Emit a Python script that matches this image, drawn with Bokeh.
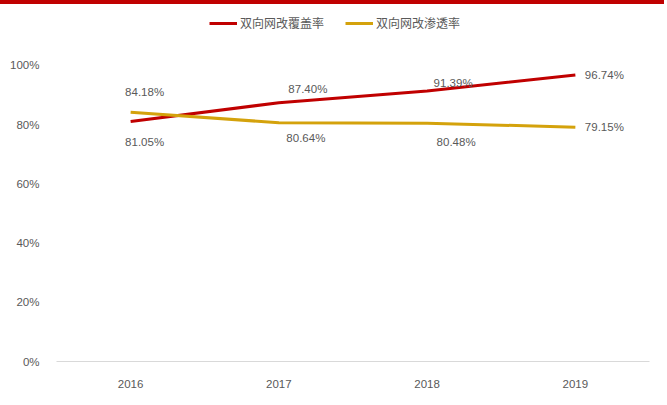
from bokeh.plotting import figure
from bokeh.models import (ColumnDataSource, FactorRange, Range1d, Legend, LegendItem,
                          FixedTicker, PrintfTickFormatter, Div)
from bokeh.layouts import column
from bokeh.core.properties import value
from bokeh.embed import file_html
from bokeh.resources import INLINE

# ---- data ----
years = ["2016", "2017", "2018", "2019"]
coverage = [81.05, 87.40, 91.39, 96.74]       # 双向网改覆盖率
penetration = [84.18, 80.64, 80.48, 79.15]    # 双向网改渗透率
y_ticks = [0, 20, 40, 60, 80, 100]
series_names = ["双向网改覆盖率", "双向网改渗透率"]

# ---- styles ----
RED = "#C00000"
GOLD = "#D4A20C"
GRAY = "#595959"
NUM_FONT = "Liberation Sans"
NUM_SIZE = "11.5px"

# label offsets (screen px)
cov_dx = [14, 29, 26, 29]
cov_dy = [20, -14, -8, 0]
pen_dx = [14, 27, 29, 29]
pen_dy = [-20, 15, 19, 0]

p = figure(width=651, height=380, x_range=FactorRange(*years, range_padding=0),
           y_range=Range1d(0, 117.2), output_backend="svg", toolbar_location=None,
           min_border_left=56, min_border_right=2, min_border_top=0, min_border_bottom=33)
p.outline_line_color = None
p.background_fill_color = "white"
p.border_fill_color = "white"
p.xgrid.grid_line_color = None
p.ygrid.grid_line_color = None

src_c = ColumnDataSource(dict(x=years, y=coverage,
                              t=[f"{v:.2f}%" for v in coverage], dx=cov_dx, dy=cov_dy))
src_p = ColumnDataSource(dict(x=years, y=penetration,
                              t=[f"{v:.2f}%" for v in penetration], dx=pen_dx, dy=pen_dy))

r_c = p.line("x", "y", source=src_c, line_color=RED, line_width=3)
r_p = p.line("x", "y", source=src_p, line_color=GOLD, line_width=3)

for s in (src_c, src_p):
    p.text("x", "y", text="t", source=s, x_offset="dx", y_offset="dy",
           text_font=value(NUM_FONT), text_font_size=NUM_SIZE, text_color=GRAY,
           text_align="center", text_baseline="middle")

# axes
p.yaxis.ticker = FixedTicker(ticks=y_ticks)
p.yaxis.formatter = PrintfTickFormatter(format="%d%%")
p.yaxis.axis_line_color = None
p.yaxis.major_tick_line_color = None
p.yaxis.minor_tick_line_color = None
p.yaxis.major_label_text_font = NUM_FONT
p.yaxis.major_label_text_font_size = NUM_SIZE
p.yaxis.major_label_text_color = GRAY
p.yaxis.major_label_standoff = 11

p.xaxis.axis_line_color = "#D9D9D9"
p.xaxis.axis_line_width = 1
p.xaxis.major_tick_line_color = None
p.xaxis.minor_tick_line_color = None
p.xaxis.major_label_text_font = NUM_FONT
p.xaxis.major_label_text_font_size = NUM_SIZE
p.xaxis.major_label_text_color = GRAY
p.xaxis.major_label_standoff = 12

legend = Legend(items=[LegendItem(label=series_names[0], renderers=[r_c]),
                       LegendItem(label=series_names[1], renderers=[r_p])],
                orientation="horizontal", location=(153, 330),
                padding=0, margin=0, spacing=21, label_standoff=3,
                glyph_width=28, glyph_height=16, label_height=16,
                label_text_font="Noto Sans CJK SC", label_text_font_size="12px",
                label_text_color=GRAY, border_line_color=None,
                background_fill_alpha=0)
p.add_layout(legend)

bar = Div(width=651, height=4, styles={"background-color": RED, "position": "relative",
                                       "top": "-5px", "left": "-5px", "width": "664px"})
layout = column(bar, p, spacing=0)

open("out.html", "w").write(file_html(layout, INLINE))
